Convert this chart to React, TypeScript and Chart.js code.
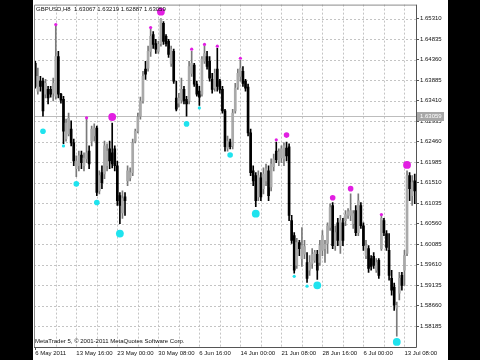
import React, { useEffect, useRef } from 'react';
import { Chart, registerables } from 'chart.js';
Chart.register(...registerables);

const symbolTitle = 'GBPUSD,H8  1.63067 1.63219 1.62887 1.63059';
const copyright = 'MetaTrader 5, \u00a9 2001-2011 MetaQuotes Software Corp.';
const timeLabels = ['6 May 2011', '13 May 16:00', '23 May 00:00', '30 May 08:00', '6 Jun 16:00', '14 Jun 00:00', '21 Jun 08:00', '28 Jun 16:00', '6 Jul 00:00', '13 Jul 08:00'];
const barsPerLabel = 16;
const barsPerGrid = 8;
const lastPrice = 1.63059;
const priceTicks = [1.58185, 1.5866, 1.59135, 1.5961, 1.60085, 1.6056, 1.61035, 1.6151, 1.61985, 1.6246, 1.62935, 1.6341, 1.63885, 1.6436, 1.64835, 1.6531];
const yMin = 1.57702;
const yMax = 1.65633;

const opens = [
  1.6427, 1.6363, 1.6386, 1.6386, 1.6356, 1.6367, 1.6367, 1.6358, 1.6351, 1.6443,
  1.6356, 1.6344, 1.6252, 1.6264, 1.6275, 1.6243, 1.6183, 1.6190, 1.6215, 1.6190,
  1.6206, 1.6224, 1.6247, 1.6259, 1.6277, 1.6132, 1.6174, 1.6171, 1.6190, 1.6229,
  1.6220, 1.6229, 1.6190, 1.6121, 1.6081, 1.6118, 1.6155, 1.6162, 1.6174, 1.6247,
  1.6270, 1.6305, 1.6340, 1.6414, 1.6416, 1.6455, 1.6494, 1.6473, 1.6455, 1.6473,
  1.6520, 1.6490, 1.6478, 1.6427, 1.6455, 1.6347, 1.6335, 1.6342, 1.6367, 1.6344,
  1.6340, 1.6404, 1.6423, 1.6379, 1.6363, 1.6356, 1.6432, 1.6443, 1.6432, 1.6390,
  1.6370, 1.6414, 1.6386, 1.6367, 1.6317, 1.6231, 1.6245, 1.6236, 1.6317, 1.6372,
  1.6397, 1.6409, 1.6386, 1.6372, 1.6266, 1.6178, 1.6167, 1.6118, 1.6162, 1.6137,
  1.6155, 1.6178, 1.6141, 1.6188, 1.6224, 1.6201, 1.6208, 1.6206, 1.6231, 1.6234,
  1.6063, 1.6028, 1.5959, 1.6012, 1.5975, 1.5985, 1.5966, 1.5948, 1.5964, 1.5971,
  1.5985, 1.5966, 1.5994, 1.5998, 1.6010, 1.6047, 1.6098, 1.6005, 1.6058, 1.6005,
  1.6058, 1.6063, 1.6075, 1.6075, 1.6056, 1.6086, 1.6035, 1.6098, 1.6051, 1.5982,
  1.5998, 1.5975, 1.5980, 1.5948, 1.5971, 1.5998, 1.6063, 1.6033, 1.5994, 1.5929,
  1.5909, 1.5860, 1.5895, 1.5936, 1.5948, 1.5987, 1.6167, 1.6121, 1.6155,
];
const highs = [
  1.6432, 1.6416, 1.6397, 1.6393, 1.6390, 1.6374, 1.6374, 1.6393, 1.6515, 1.6455,
  1.6358, 1.6351, 1.6298, 1.6312, 1.6294, 1.6252, 1.6213, 1.6224, 1.6224, 1.6220,
  1.6298, 1.6236, 1.6282, 1.6287, 1.6282, 1.6178, 1.6190, 1.6247, 1.6241, 1.6247,
  1.6289, 1.6236, 1.6201, 1.6128, 1.6132, 1.6128, 1.6190, 1.6185, 1.6252, 1.6275,
  1.6312, 1.6349, 1.6409, 1.6432, 1.6467, 1.6506, 1.6501, 1.6483, 1.6478, 1.6531,
  1.6524, 1.6494, 1.6483, 1.6467, 1.6460, 1.6386, 1.6358, 1.6393, 1.6374, 1.6351,
  1.6432, 1.6455, 1.6427, 1.6386, 1.6374, 1.6443, 1.6467, 1.6455, 1.6443, 1.6404,
  1.6414, 1.6462, 1.6390, 1.6374, 1.6321, 1.6259, 1.6252, 1.6321, 1.6381, 1.6414,
  1.6434, 1.6420, 1.6390, 1.6379, 1.6275, 1.6190, 1.6174, 1.6178, 1.6174, 1.6185,
  1.6194, 1.6190, 1.6206, 1.6217, 1.6245, 1.6229, 1.6236, 1.6243, 1.6245, 1.6241,
  1.6075, 1.6035, 1.6022, 1.6017, 1.6047, 1.6017, 1.5989, 1.5982, 1.5998, 1.5994,
  1.5994, 1.6017, 1.6040, 1.6017, 1.6058, 1.6102, 1.6105, 1.6051, 1.6068, 1.6075,
  1.6068, 1.6086, 1.6091, 1.6125, 1.6086, 1.6098, 1.6125, 1.6105, 1.6058, 1.6017,
  1.6005, 1.5982, 1.5989, 1.5975, 1.5975, 1.6075, 1.6068, 1.6040, 1.6033, 1.5948,
  1.5918, 1.5874, 1.5943, 1.5943, 1.5994, 1.6178, 1.6174, 1.6167, 1.6171,
];
const lows = [
  1.6370, 1.6356, 1.6363, 1.6305, 1.6347, 1.6333, 1.6349, 1.6340, 1.6344, 1.6347,
  1.6335, 1.6241, 1.6247, 1.6259, 1.6236, 1.6190, 1.6165, 1.6178, 1.6183, 1.6178,
  1.6197, 1.6183, 1.6236, 1.6247, 1.6121, 1.6125, 1.6137, 1.6160, 1.6178, 1.6183,
  1.6185, 1.6178, 1.6098, 1.6056, 1.6068, 1.6075, 1.6144, 1.6155, 1.6167, 1.6243,
  1.6266, 1.6298, 1.6335, 1.6390, 1.6409, 1.6443, 1.6462, 1.6450, 1.6450, 1.6467,
  1.6471, 1.6467, 1.6441, 1.6420, 1.6381, 1.6317, 1.6326, 1.6335, 1.6333, 1.6305,
  1.6333, 1.6397, 1.6374, 1.6351, 1.6330, 1.6351, 1.6427, 1.6414, 1.6386, 1.6358,
  1.6363, 1.6363, 1.6358, 1.6312, 1.6224, 1.6224, 1.6229, 1.6229, 1.6312, 1.6367,
  1.6386, 1.6374, 1.6363, 1.6259, 1.6167, 1.6144, 1.6095, 1.6109, 1.6109, 1.6125,
  1.6144, 1.6109, 1.6132, 1.6178, 1.6197, 1.6190, 1.6197, 1.6190, 1.6201, 1.6063,
  1.6010, 1.5941, 1.5952, 1.5982, 1.5957, 1.5975, 1.5920, 1.5936, 1.5952, 1.5966,
  1.5927, 1.5959, 1.5982, 1.5966, 1.5987, 1.6040, 1.5998, 1.5994, 1.6005, 1.5987,
  1.6005, 1.6051, 1.6068, 1.6063, 1.6045, 1.6028, 1.6028, 1.6045, 1.5994, 1.5975,
  1.5943, 1.5948, 1.5952, 1.5943, 1.5929, 1.5994, 1.6028, 1.5994, 1.5925, 1.5890,
  1.5855, 1.5795, 1.5879, 1.5902, 1.5913, 1.5982, 1.6109, 1.6098, 1.6102,
];
const closes = [
  1.6374, 1.6397, 1.6374, 1.6317, 1.6381, 1.6347, 1.6356, 1.6381, 1.6443, 1.6356,
  1.6342, 1.6270, 1.6289, 1.6300, 1.6243, 1.6201, 1.6201, 1.6213, 1.6197, 1.6208,
  1.6220, 1.6194, 1.6275, 1.6277, 1.6128, 1.6167, 1.6151, 1.6236, 1.6224, 1.6201,
  1.6194, 1.6190, 1.6109, 1.6098, 1.6114, 1.6109, 1.6178, 1.6174, 1.6243, 1.6270,
  1.6303, 1.6340, 1.6397, 1.6402, 1.6455, 1.6490, 1.6471, 1.6460, 1.6471, 1.6529,
  1.6478, 1.6473, 1.6448, 1.6460, 1.6386, 1.6321, 1.6347, 1.6367, 1.6340, 1.6333,
  1.6420, 1.6427, 1.6379, 1.6356, 1.6349, 1.6437, 1.6450, 1.6420, 1.6393, 1.6367,
  1.6404, 1.6374, 1.6367, 1.6317, 1.6234, 1.6247, 1.6234, 1.6312, 1.6370, 1.6404,
  1.6416, 1.6381, 1.6370, 1.6266, 1.6174, 1.6155, 1.6109, 1.6167, 1.6118, 1.6171,
  1.6183, 1.6121, 1.6194, 1.6206, 1.6204, 1.6222, 1.6229, 1.6236, 1.6213, 1.6075,
  1.6017, 1.5948, 1.6012, 1.5998, 1.6005, 1.6003, 1.5929, 1.5966, 1.5985, 1.5989,
  1.5948, 1.6005, 1.6028, 1.6008, 1.6051, 1.6093, 1.6005, 1.6035, 1.6017, 1.6063,
  1.6017, 1.6077, 1.6084, 1.6086, 1.6079, 1.6035, 1.6109, 1.6051, 1.6005, 1.6005,
  1.5952, 1.5957, 1.5959, 1.5966, 1.5936, 1.6068, 1.6035, 1.6001, 1.5936, 1.5902,
  1.5867, 1.5867, 1.5929, 1.5913, 1.5982, 1.6167, 1.6137, 1.6151, 1.6132,
];

// fractal markers: bar index, price, size class (1 small, 2 medium, 3 large)
const upperBars = [8, 20, 30, 45, 49, 61, 66, 71, 80, 94, 98, 116, 123, 135, 145];
const upperPrices = [1.6517, 1.6301, 1.6303, 1.6510, 1.6547, 1.6460, 1.6471, 1.6467, 1.6439, 1.6250, 1.6261, 1.6116, 1.6137, 1.6077, 1.6192];
const upperSizes = [1, 1, 3, 1, 3, 1, 1, 1, 1, 1, 2, 2, 2, 1, 3];
const lowerBars = [3, 11, 16, 24, 33, 59, 64, 76, 86, 101, 106, 110, 141];
const lowerPrices = [1.6270, 1.6236, 1.6148, 1.6105, 1.6033, 1.6287, 1.6324, 1.6215, 1.6079, 1.5934, 1.5911, 1.5913, 1.5782];
const lowerSizes = [2, 1, 2, 2, 3, 2, 1, 2, 3, 1, 1, 3, 3];

const sizeRadius: Record<number, number> = { 1: 1.6, 2: 2.8, 3: 3.9 };
const FONT = '"Liberation Sans", Arial, sans-serif';

export default function App() {
  const ref = useRef<HTMLCanvasElement | null>(null);
  useEffect(() => {
    document.body.style.margin = '0';
    const canvas = ref.current;
    if (!canvas) return;
    const n = opens.length;
    const categories = opens.map((_, i) => String(i));
    const isBull = (i: number) => closes[i] >= opens[i];
    const upperData: (number | null)[] = new Array(n).fill(null);
    const upperR: number[] = new Array(n).fill(0);
    upperBars.forEach((b, k) => { upperData[b] = upperPrices[k]; upperR[b] = sizeRadius[upperSizes[k]]; });
    const lowerData: (number | null)[] = new Array(n).fill(null);
    const lowerR: number[] = new Array(n).fill(0);
    lowerBars.forEach((b, k) => { lowerData[b] = lowerPrices[k]; lowerR[b] = sizeRadius[lowerSizes[k]]; });

    const decor = {
      id: 'mtDecor',
      beforeDatasetsDraw(chart: any) {
        const { ctx, chartArea: a, scales } = chart;
        const xs = scales.x, ys = scales.y;
        ctx.save();
        ctx.strokeStyle = '#c4c4c4';
        ctx.lineWidth = 1;
        ctx.setLineDash([2, 2]);
        for (const v of priceTicks) {
          const y = Math.round(ys.getPixelForValue(v)) + 0.5;
          ctx.beginPath(); ctx.moveTo(a.left, y); ctx.lineTo(a.right, y); ctx.stroke();
        }
        for (let i = barsPerGrid; i < n; i += barsPerGrid) {
          const x = Math.round(xs.getPixelForValue(i)) + 0.5;
          ctx.beginPath(); ctx.moveTo(x, a.top); ctx.lineTo(x, a.bottom); ctx.stroke();
        }
        ctx.setLineDash([]);
        ctx.strokeStyle = '#bdbdbd';
        const py = Math.round(ys.getPixelForValue(lastPrice)) + 0.5;
        ctx.beginPath(); ctx.moveTo(a.left, py); ctx.lineTo(a.right, py); ctx.stroke();
        ctx.restore();
      },
      afterDraw(chart: any) {
        const { ctx, chartArea: a, scales } = chart;
        const ys = scales.y;
        ctx.save();
        // frame
        ctx.lineWidth = 1;
        ctx.strokeStyle = '#8a8a8a';
        ctx.beginPath();
        ctx.moveTo(a.left + 0.5, a.bottom); ctx.lineTo(a.left + 0.5, a.top + 0.5); ctx.lineTo(a.right, a.top + 0.5);
        ctx.stroke();
        ctx.strokeStyle = '#555555';
        ctx.beginPath();
        ctx.moveTo(a.right + 0.5, a.top); ctx.lineTo(a.right + 0.5, a.bottom + 0.5); ctx.lineTo(a.left, a.bottom + 0.5);
        ctx.stroke();
        // last price box
        const py = ys.getPixelForValue(lastPrice);
        ctx.fillStyle = '#a8a8a8';
        ctx.fillRect(a.right + 1, Math.round(py) - 4, 27, 9);
        ctx.fillStyle = '#ffffff';
        ctx.font = '6px ' + FONT;
        ctx.textBaseline = 'middle';
        ctx.textAlign = 'left';
        ctx.fillText(lastPrice.toFixed(5), a.right + 4, Math.round(py) + 0.5);
        // texts
        ctx.fillStyle = '#111111';
        ctx.font = '6px ' + FONT;
        ctx.fillText(symbolTitle, a.left + 2, a.top + 5);
        ctx.fillText(copyright, a.left + 1, a.bottom - 6);
        ctx.restore();
      },
    };

    const chart = new Chart(canvas, {
      type: 'bar',
      data: {
        labels: categories,
        datasets: [
          {
            type: 'line' as const,
            data: upperData,
            showLine: false,
            pointRadius: (c: any) => upperR[c.dataIndex] || 0,
            pointBackgroundColor: '#e21fe2',
            pointBorderWidth: 0,
            pointHoverRadius: 0,
            order: 0,
          },
          {
            type: 'line' as const,
            data: lowerData,
            showLine: false,
            pointRadius: (c: any) => lowerR[c.dataIndex] || 0,
            pointBackgroundColor: '#1fe3ee',
            pointBorderWidth: 0,
            pointHoverRadius: 0,
            order: 0,
          },
          {
            data: opens.map((o, i) => [Math.min(o, closes[i]), Math.max(o, closes[i])]) as any,
            backgroundColor: opens.map((_, i) => (isBull(i) ? '#a9a9a9' : '#000000')),
            barThickness: 2,
            minBarLength: 1,
            grouped: false,
            order: 1,
          },
          {
            data: highs.map((h, i) => [lows[i], h]) as any,
            backgroundColor: opens.map((_, i) => (isBull(i) ? '#7a7a7a' : '#000000')),
            barThickness: 1,
            grouped: false,
            order: 2,
          },
        ],
      },
      options: {
        responsive: false,
        animation: false,
        events: [],
        layout: { padding: { left: 1, top: 3, right: 0, bottom: 0 } },
        plugins: { legend: { display: false }, tooltip: { enabled: false } },
        scales: {
          x: {
            type: 'category',
            offset: true,
            border: { display: false },
            grid: {
              display: true,
              drawOnChartArea: false,
              drawTicks: true,
              tickLength: 3,
              offset: false,
              tickColor: (c: any) => (c.index % barsPerLabel === 0 ? '#555555' : 'rgba(0,0,0,0)'),
            },
            ticks: {
              autoSkip: false,
              maxRotation: 0,
              minRotation: 0,
              align: 'start',
              padding: 0,
              color: '#111111',
              font: { family: FONT, size: 6 },
              callback: (_v: any, i: number) => (i % barsPerLabel === 0 ? timeLabels[i / barsPerLabel] : null),
            },
            afterFit: (s: any) => { s.height = 13; s.paddingLeft = 0; s.paddingRight = 0; },
          },
          y: {
            position: 'right',
            min: yMin,
            max: yMax,
            border: { display: false },
            grid: { display: true, drawOnChartArea: false, drawTicks: true, tickLength: 3, tickColor: '#555555' },
            afterBuildTicks: (s: any) => { s.ticks = priceTicks.map((v) => ({ value: v })); },
            ticks: {
              padding: 1,
              color: '#111111',
              font: { family: FONT, size: 6 },
              callback: (v: any) => Number(v).toFixed(5),
            },
            afterFit: (s: any) => { s.width = 32; },
          },
        },
      },
      plugins: [decor],
    } as any);
    return () => chart.destroy();
  }, []);

  return (
    <div style={{ position: 'relative', width: 480, height: 360, background: '#000' }}>
      <div style={{ position: 'absolute', left: 33, top: 0, width: 415, height: 360, background: '#fff' }}>
        <canvas ref={ref} width={415} height={360} style={{ display: 'block' }} />
      </div>
    </div>
  );
}
